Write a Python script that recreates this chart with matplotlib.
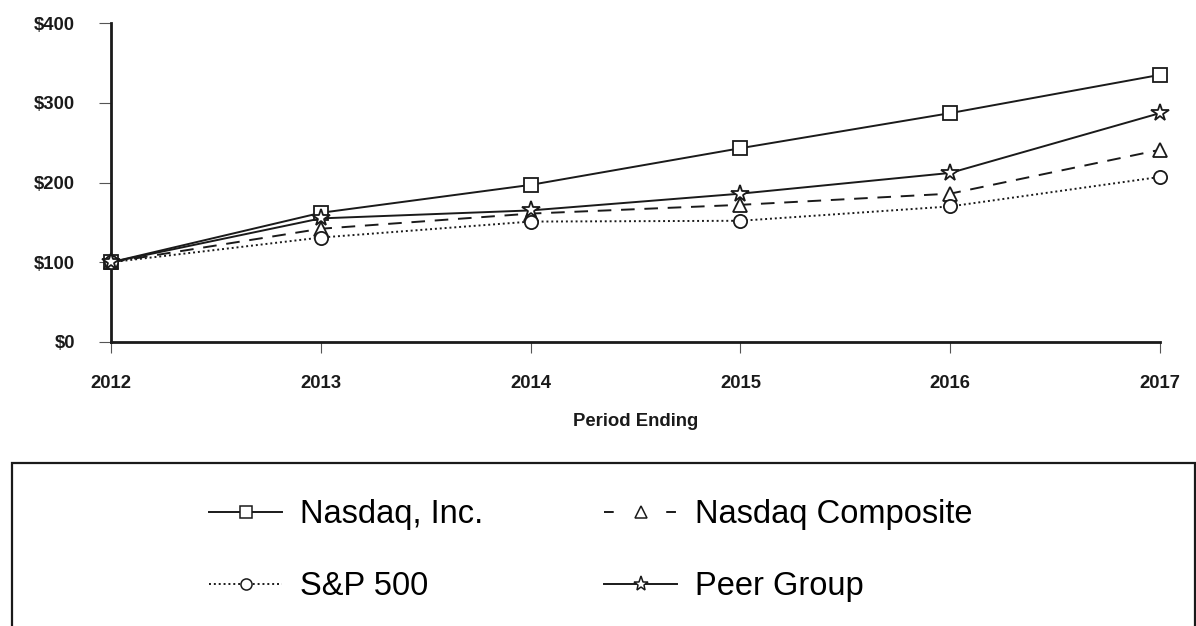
import matplotlib.pyplot as plt
from matplotlib.lines import Line2D
from matplotlib.patches import Rectangle

plt.rcParams['font.family'] = ['Liberation Sans', 'DejaVu Sans']

# Data (cumulative total return, $100 invested in 2012)
years = [2012, 2013, 2014, 2015, 2016, 2017]
nasdaq_inc = [100, 162, 197, 243, 287, 335]
nasdaq_comp = [100, 142, 161, 172, 186, 241]
sp500 = [100, 131, 151, 152, 170, 207]
peer_group = [100, 155, 165, 186, 212, 287]
y_ticks = [0, 100, 200, 300, 400]
y_labels = ['$0', '$100', '$200', '$300', '$400']

ink = '#1a1a1a'
series = [
    ('Nasdaq, Inc.', nasdaq_inc, '-', 's'),
    ('Nasdaq Composite', nasdaq_comp, (0, (7, 5)), '^'),
    ('S&P 500', sp500, (0, (1, 1.5)), 'o'),
    ('Peer Group', peer_group, '-', '*'),
]
# legend samples use a sparser dash for the composite line
legend_ls = ['-', (0, (5, 27)), (0, (1, 1.5)), '-']

fig = plt.figure(figsize=(11.96, 6.26), dpi=100)
ax = fig.add_axes([111/1196, 284/626, 1049/1196, 319/626])

for name, vals, ls, mk in series:
    ms = 13 if mk == '*' else 9.5
    ax.plot(years, vals, linestyle=ls, color=ink, lw=1.4, marker=mk,
            markersize=ms, markerfacecolor='white', markeredgecolor=ink,
            markeredgewidth=1.3, clip_on=False, zorder=3)

ax.set_xlim(2012, 2017)
ax.set_ylim(0, 400)
ax.set_xticks(years)
ax.set_yticks(y_ticks)
ax.set_yticklabels(y_labels)
for s in ['top', 'right']:
    ax.spines[s].set_visible(False)
for s in ['left', 'bottom']:
    ax.spines[s].set_linewidth(2)
    ax.spines[s].set_color(ink)
ax.tick_params(axis='y', direction='out', length=9, width=0.8, color='#555555', pad=17)
ax.tick_params(axis='x', direction='out', length=8, width=0.8, color='#555555', pad=16)
for lab in ax.get_xticklabels() + ax.get_yticklabels():
    lab.set_fontsize(13.3)
    lab.set_fontweight('bold')
    lab.set_color(ink)
ax.set_xlabel('Period Ending', fontsize=13.3, fontweight='bold', color=ink, labelpad=15)

# legend box, cut off at the bottom of the picture
fig.add_artist(Rectangle((12/1196, -0.1), 1183/1196, 0.1 + 163/626,
                         transform=fig.transFigure, fill=False,
                         edgecolor=ink, lw=1.6))

handles = []
for (name, vals, ls, mk), lls in zip(series, legend_ls):
    ms = 11 if mk == '*' else 8
    handles.append(Line2D([], [], linestyle=lls, color=ink, lw=1.4, marker=mk,
                          markersize=ms, markerfacecolor='white',
                          markeredgecolor=ink, markeredgewidth=1.1))
order = [0, 2, 1, 3]
fig.legend([handles[i] for i in order], [series[i][0] for i in order],
           ncol=2, loc='upper left', bbox_to_anchor=(209/1196, 1 - 499/626),
           frameon=False, fontsize=23.5, handlelength=2.24, handletextpad=0.55,
           columnspacing=3.7, labelspacing=1.26, borderaxespad=0, borderpad=0)

fig.savefig('out.png', dpi=100)
